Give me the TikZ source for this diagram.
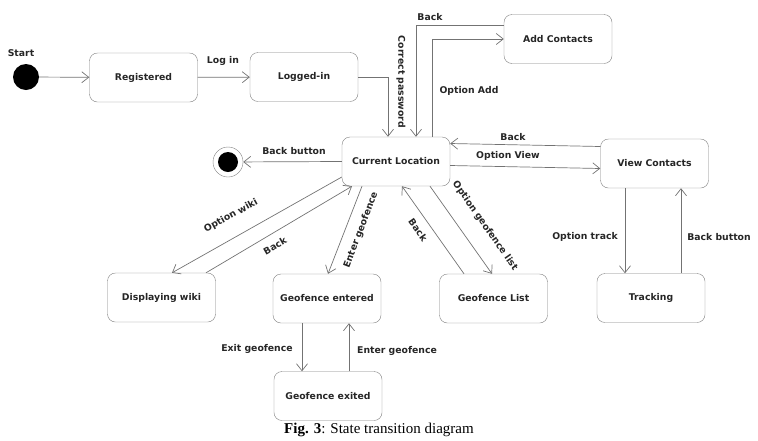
\documentclass[tikz,border=0pt]{standalone}
\usepackage{fontspec}
\setmainfont{DejaVu Sans}
\newfontfamily\capfont{Liberation Serif}
\usetikzlibrary{arrows.meta,positioning,calc}
\tikzset{state/.style={draw=black!50,rounded corners=8pt,minimum width=108pt,minimum height=49pt,font=\fontsize{9.3}{11}\selectfont\bfseries,text=black!85},trans/.style={-{Straight Barb[length=7pt,width=11pt]},draw=black!55,line width=0.7pt},lbl/.style={font=\fontsize{9.3}{11}\selectfont\bfseries,text=black!85,inner sep=1pt}}
\begin{document}
\begin{tikzpicture}[x=1pt,y=-1pt]
\useasboundingbox (0,0) rectangle (758,440);
\node[circle,fill=black,minimum size=26pt,inner sep=0pt] (start) at (26,77) {};
\node[lbl] (startlbl) at (21,53) {Start};
\node[state] (reg) at (143.5,77.5) {Registered};
\node[state] (li) at (304,77) {Logged-in};
\node[state] (cl) at (396,161.5) {Current Location};
\node[state] (ac) at (558,39) {Add Contacts};
\node[state] (vc) at (654.5,163.5) {View Contacts};
\node[circle,draw=black!50,minimum size=30pt,inner sep=0pt] (fin) at (228,162) {};
\fill[black] (fin) circle (10pt);
\node[state] (dw) at (161.5,297.5) {Displaying wiki};
\node[state] (ge) at (327,298.5) {Geofence entered};
\node[state] (gl) at (493.5,298.5) {Geofence List};
\node[state] (gx) at (328,396) {Geofence exited};
\node[state] (tr) at (651,298) {Tracking};
\draw[trans] (start) -- (reg);
\draw[trans] (reg) -- (li) node[lbl,at={(223,61)}] {Log in};
\draw[trans] (li.east) -| ([xshift=-8pt]cl.north) node[lbl,rotate=-90,at={(401,82)}] {Correct password};
\draw[trans] ([yshift=14pt]ac.west) -| ([xshift=20pt]cl.north) node[lbl,at={(430,17)}] {Back};
\draw[trans] ([xshift=36pt]cl.north) |- (ac.west) node[lbl,at={(469,91)}] {Option Add};
\draw[trans] ([yshift=17pt]vc.west) -- ([yshift=18pt]cl.east) node[lbl,at={(513,137)}] {Back};
\draw[trans] ([yshift=-4pt]cl.east) -- ([yshift=-5pt]vc.west) node[lbl,at={(508,156)}] {Option View};
\draw[trans] (cl.west) -- (fin) node[lbl,at={(294,151)}] {Back button};
\draw[trans] ([yshift=-15.5pt]cl.west) -- ([xshift=10.5pt]dw.north) node[lbl,rotate=29,at={(231,216)}] {Option wiki};
\draw[trans] ([xshift=44.5pt]dw.north) -- ([xshift=-44pt]cl.south) node[lbl,rotate=30,at={(275,246)}] {Back};
\draw[trans] ([xshift=-34pt]cl.south) -- ([xshift=1pt]ge.north) node[lbl,rotate=69,at={(361,230)}] {Enter geofence};
\draw[trans] ([xshift=-29.5pt]gl.north) -- ([xshift=6pt]cl.south) node[lbl,rotate=-55,at={(418,230)}] {Back};
\draw[trans] ([xshift=34pt]cl.south) -- ([xshift=-1.5pt]gl.north) node[lbl,rotate=-55,at={(485,226)}] {Option geofence list};
\draw[trans] ([xshift=-25pt]ge.south) -- ([xshift=-26pt]gx.north) node[lbl,at={(257,349)}] {Exit geofence};
\draw[trans] ([xshift=21pt]gx.north) -- ([xshift=22pt]ge.south) node[lbl,at={(397,351)}] {Enter geofence};
\draw[trans] ([xshift=-29.5pt]vc.south) -- ([xshift=-26pt]tr.north) node[lbl,at={(585,237)}] {Option track};
\draw[trans] ([xshift=30pt]tr.north) -- ([xshift=26.5pt]vc.south) node[lbl,at={(719,237)}] {Back button};
\node[font=\capfont\fontsize{15}{18}\selectfont,inner sep=0pt] (cap) at (379,430) {\textbf{Fig. 3}: State transition diagram};
\end{tikzpicture}
\end{document}
